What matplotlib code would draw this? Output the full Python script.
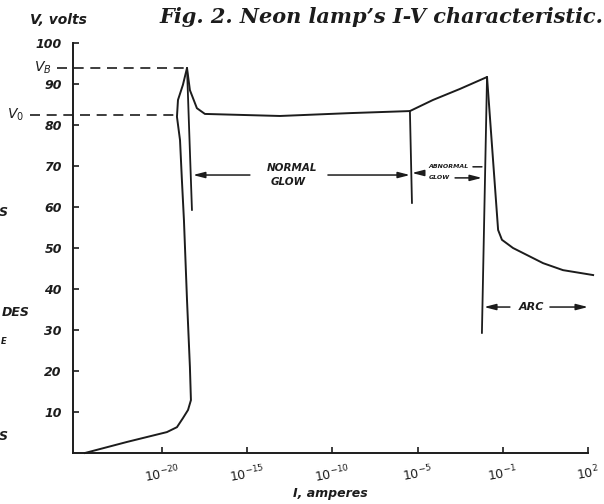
import numpy as np
import matplotlib.pyplot as plt

plt.rcParams['font.family'] = ['DejaVu Sans']
plt.rcParams['mathtext.default'] = 'it'

# I-V curve: x = log10(I / A), y = volts
curve_exp = [-24.52, -22.05, -19.71, -19.12, -18.77, -18.47, -18.30, -18.36,
             -18.53, -18.71, -18.83, -18.94, -19.12, -19.06, -18.77, -18.53,
             -18.36, -17.95, -17.48, -13.08, -11.90, -8.97, -5.45, -4.28,
             -3.01, -1.74, -1.22, -1.04, -0.64, 0.42, 1.12, 2.18]
curve_v = [0, 2.7, 5.1, 6.3, 8.5, 10.5, 12.9, 21.0,
           37.3, 56.8, 66.6, 76.3, 82.0, 86.1, 89.8, 93.9,
           88.5, 84.1, 82.7, 82.2, 82.4, 82.9, 83.4, 86.1,
           88.8, 91.7, 54.4, 52.0, 50.0, 46.3, 44.6, 43.4]

# region boundary strokes
glow_exp, glow_v = [-18.53, -18.24], [93.9, 59.3]
abn_exp, abn_v = [-5.45, -5.33], [83.4, 61.0]
arc_exp, arc_v = [-1.74, -1.98], [91.7, 29.3]

v_breakdown = 93.9
v_glow = 82.4

x_ticks = [-20, -15, -10, -5, -1, 2]
x_labels = [r'$10^{-20}$', r'$10^{-15}$', r'$10^{-10}$', r'$10^{-5}$',
            r'$10^{-1}$', r'$10^{2}$']
y_ticks = [10, 20, 30, 40, 50, 60, 70, 80, 90, 100]
y_labels = ['10', '20', '30', '40', '50', '60', '70', '80', '90', '100']

# the hand drawn axis spaces its decade labels evenly, whatever the gap
knot_exp = [-35.25, -20, -5, -1, 2, 8]
knot_pos = [-3.05, 0, 3, 4, 5, 7]


def fwd(x):
    return np.interp(x, knot_exp, knot_pos)


def inv(p):
    return np.interp(p, knot_pos, knot_exp)


ink = '#1c1c1c'
hand = dict(family='DejaVu Sans', style='italic', weight='bold', color=ink)

fig = plt.figure(figsize=(6.04, 5.04), dpi=100)
ax = fig.add_axes([73 / 604, 51 / 504, 515 / 604, 410 / 504])
ax.set_xscale('function', functions=(fwd, inv))
ax.set_xlim(-25.22, 2)
ax.set_ylim(0, 100)

ax.plot(curve_exp, curve_v, color=ink, lw=1.4, clip_on=False)
for xs, ys in [(glow_exp, glow_v), (abn_exp, abn_v), (arc_exp, arc_v)]:
    ax.plot(xs, ys, color=ink, lw=1.3, clip_on=False)

# V_B and V_0 dashed guides
ax.plot([-26.16, -18.53], [v_breakdown, v_breakdown], color=ink, lw=1.2,
        ls=(0, (6, 4)), clip_on=False)
ax.plot([-27.75, -19.12], [v_glow, v_glow], color=ink, lw=1.2,
        ls=(0, (6, 4)), clip_on=False)
ax.text(-26.5, v_breakdown, r'$V_B$', ha='right', va='center', fontsize=10,
        color=ink)
ax.text(-28.1, v_glow, r'$V_0$', ha='right', va='center', fontsize=10,
        color=ink)

arrow = dict(arrowstyle='-|>,head_length=0.7,head_width=0.18', color=ink,
             lw=1.1, shrinkA=0, shrinkB=0)
line = dict(arrowstyle='-', color=ink, lw=1.1, shrinkA=0, shrinkB=0)

# normal glow
ax.annotate('', xy=(-18.18, 67.8), xytext=(-14.84, 67.8), arrowprops=arrow)
ax.annotate('', xy=(-5.45, 67.8), xytext=(-10.26, 67.8), arrowprops=arrow)
ax.text(-12.37, 69.5, 'NORMAL', ha='center', va='center', fontsize=7.5, **hand)
ax.text(-12.61, 66.1, 'GLOW', ha='center', va='center', fontsize=7.5, **hand)

# abnormal glow
ax.annotate('', xy=(-5.33, 68.3), xytext=(-4.85, 68.3), arrowprops=arrow)
ax.text(-3.57, 69.8, 'ABNORMAL', ha='center', va='center', fontsize=4.5, **hand)
ax.text(-4.0, 67.1, 'GLOW', ha='center', va='center', fontsize=4.5, **hand)
ax.annotate('', xy=(-1.98, 69.8), xytext=(-2.40, 69.8), arrowprops=line)
ax.annotate('', xy=(-1.98, 67.1), xytext=(-3.24, 67.1), arrowprops=arrow)

# arc
ax.annotate('', xy=(-1.88, 35.6), xytext=(-0.75, 35.6), arrowprops=arrow)
ax.annotate('', xy=(2.0, 35.6), xytext=(0.66, 35.6), arrowprops=arrow)
ax.text(0.0, 35.6, 'ARC', ha='center', va='center', fontsize=8, **hand)

ax.spines['top'].set_visible(False)
ax.spines['right'].set_visible(False)
for s in ['left', 'bottom']:
    ax.spines[s].set_linewidth(1.4)
    ax.spines[s].set_color(ink)

ax.set_xticks(x_ticks)
ax.set_xticklabels(x_labels, rotation=10)
ax.set_yticks(y_ticks)
ax.set_yticklabels(y_labels)
ax.minorticks_off()
ax.tick_params(axis='both', direction='in', length=4, width=1.2, color=ink,
               labelcolor=ink, labelsize=9)
ax.tick_params(axis='x', pad=7)
ax.tick_params(axis='y', pad=8)
for lab in ax.get_yticklabels():
    lab.set_fontstyle('italic')
    lab.set_fontweight('bold')

ax.set_xlabel('I, amperes', fontsize=9, labelpad=1, **hand)

fig.text(58 / 604, 1 - 20 / 504, 'V, volts', ha='center', va='center',
         fontsize=10, **hand)
fig.text(603 / 604, 1 - 17 / 504, 'Fig. 2. Neon lamp\u2019s I-V characteristic.',
         ha='right', va='center', fontsize=15, family='DejaVu Serif',
         style='italic', weight='bold', color=ink)

# pieces of neighbouring text cut by the page edge
fig.text(8 / 604, 1 - 213 / 504, 'S', ha='right', va='center', fontsize=9, **hand)
fig.text(30 / 604, 1 - 312 / 504, 'DES', ha='right', va='center', fontsize=9, **hand)
fig.text(0.5 / 604, 1 - 342 / 504, 'E', ha='left', va='center', fontsize=6, **hand)
fig.text(8 / 604, 1 - 437 / 504, 'S', ha='right', va='center', fontsize=9, **hand)

fig.savefig('out.png', dpi=100)
